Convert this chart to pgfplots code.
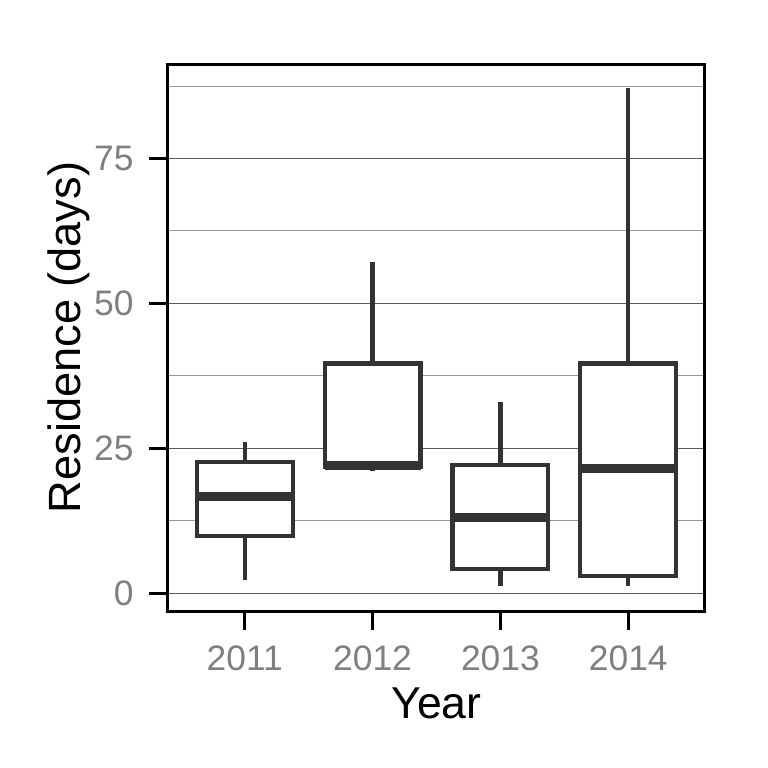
\documentclass[border=0pt]{standalone}
\usepackage{fontspec}
\setmainfont{Liberation Sans}
\usepackage{pgfplots}
\pgfplotsset{compat=1.18}
\usepgfplotslibrary{statistics}
\definecolor{boxc}{HTML}{333333}
\definecolor{tickc}{HTML}{7F7F7F}
\definecolor{majg}{HTML}{5A5A5A}
\definecolor{ming}{HTML}{9A9A9A}
\begin{document}
\begin{tikzpicture}[x=1pt,y=1pt]
\path[use as bounding box] (0,0) rectangle (384,384);
\begin{axis}[
  at={(84pt,78.5pt)}, anchor=south west,
  width=268.5pt, height=273.5pt, scale only axis,
  xmin=0.4, xmax=4.6, ymin=-3.1, ymax=91.3,
  xtick={1,2,3,4}, xticklabels={2011,2012,2013,2014},
  ytick={0,25,50,75}, minor ytick={12.5,37.5,62.5,87.5},
  ymajorgrids, yminorgrids, xmajorgrids=false,
  major grid style={draw=majg, line width=0.5pt},
  minor grid style={draw=ming, line width=0.5pt},
  minor tick length=0pt,
  tick align=outside, xtick pos=bottom, ytick pos=left,
  major tick length=9.5pt,
  every tick/.style={black, line width=1.5pt},
  axis line style={black, line width=1.5pt},
  /pgf/number format/assume math mode=true,
  ticklabel style={font=\fontsize{17.7}{17.7}\selectfont, text=tickc},
  yticklabel style={inner sep=0pt},
  xticklabel style={inner sep=0pt},
  yticklabel shift=7.5pt,
  xticklabel shift=7.5pt,
  xlabel={Year}, ylabel={Residence (days)},
  xlabel style={font=\fontsize{22.3}{22.3}\selectfont, at={(axis description cs:0.5,-0.1974)}, anchor=base, inner sep=0pt},
  ylabel style={font=\fontsize{22.6}{22.6}\selectfont, at={(axis description cs:-0.1453,0.5)}, anchor=south, inner sep=0pt},
  boxplot/draw direction=y,
  boxplot/box extend=0.75,
  boxplot/whisker extend=0,
  boxplot/every median/.style={line width=4.6pt},
]
\addplot[boxplot prepared={draw position=1, lower whisker=2.2, lower quartile=9.9, median=16.6, upper quartile=22.6, upper whisker=26.1}, draw=boxc, fill=white, line width=2.1pt] coordinates {};
\addplot[boxplot prepared={draw position=2, lower whisker=21.1, lower quartile=21.7, median=22.0, upper quartile=39.6, upper whisker=57.1}, draw=boxc, fill=white, line width=2.1pt] coordinates {};
\addplot[boxplot prepared={draw position=3, lower whisker=1.15, lower quartile=4.1, median=13.1, upper quartile=22.1, upper whisker=33.0}, draw=boxc, fill=white, line width=2.1pt] coordinates {};
\addplot[boxplot prepared={draw position=4, lower whisker=1.15, lower quartile=2.9, median=21.5, upper quartile=39.6, upper whisker=87.1}, draw=boxc, fill=white, line width=2.1pt] coordinates {};
\end{axis}
\end{tikzpicture}
\end{document}
